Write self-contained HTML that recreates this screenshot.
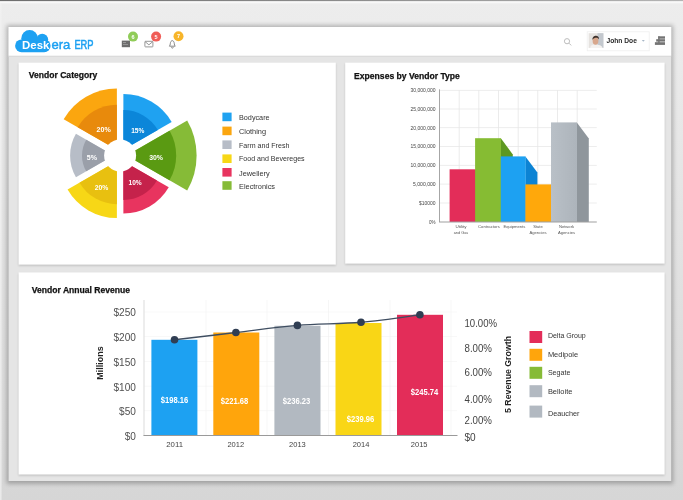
<!DOCTYPE html>
<html lang="en"><head><meta charset="utf-8"><title>Deskera ERP Dashboard</title>
<style>
html,body{margin:0;padding:0;width:683px;height:500px;overflow:hidden;background:#e4e4e4;}
svg{display:block;font-family:"Liberation Sans", sans-serif;filter:blur(0.45px);}
</style></head><body>
<svg width="683" height="500" viewBox="0 0 683 500">
<defs>
<linearGradient id="bg" x1="0" y1="0" x2="0" y2="1">
<stop offset="0" stop-color="#ededed"/><stop offset="0.5" stop-color="#e2e2e2"/><stop offset="1" stop-color="#d6d6d6"/>
</linearGradient>
<linearGradient id="topline" x1="0" y1="0" x2="1" y2="0">
<stop offset="0" stop-color="#6e6e6e"/><stop offset="0.5" stop-color="#8c8c8c"/><stop offset="1" stop-color="#b4b4b4"/>
</linearGradient>
<filter id="sh" x="-5%" y="-5%" width="110%" height="112%"><feGaussianBlur stdDeviation="2.2"/></filter>
<filter id="sh2" x="-5%" y="-5%" width="110%" height="112%"><feGaussianBlur stdDeviation="1.2"/></filter>
<linearGradient id="grayg" x1="0" y1="0" x2="1" y2="0">
<stop offset="0" stop-color="#b9c0c7"/><stop offset="1" stop-color="#adb4bb"/>
</linearGradient>
</defs>

<rect width="683" height="500" fill="url(#bg)"/>
<rect x="0" y="0" width="683" height="1.3" fill="url(#topline)"/>
<rect x="0" y="1.3" width="683" height="2" fill="#f8f8f8"/>
<rect x="6.6" y="25.2" width="666.6" height="458.6" fill="#000" opacity="0.25" filter="url(#sh)"/>
<rect x="0" y="3" width="1.6" height="497" fill="#f2f2f2" opacity="0.7"/>
<rect x="8.6" y="27" width="662.6" height="454" fill="#e5e5e5"/>
<rect x="8.6" y="27" width="662.6" height="28.8" fill="#fff"/>
<rect x="8.6" y="55.8" width="662.6" height="1" fill="#d9d9d9"/>
<rect x="18.6" y="63.800000000000004" width="317.2" height="202" fill="#000" opacity="0.16" filter="url(#sh2)"/>
<rect x="18.6" y="62.6" width="317.2" height="202" fill="#fff"/>
<rect x="345.2" y="63.800000000000004" width="319.4" height="201" fill="#000" opacity="0.16" filter="url(#sh2)"/>
<rect x="345.2" y="62.6" width="319.4" height="201" fill="#fff"/>
<rect x="18.6" y="273.59999999999997" width="646" height="202.1" fill="#000" opacity="0.16" filter="url(#sh2)"/>
<rect x="18.6" y="272.4" width="646" height="202.1" fill="#fff"/>
<g fill="#1da1f2">
<rect x="15.1" y="39.4" width="35.5" height="12.8" rx="6.4"/>
<circle cx="29.6" cy="38.3" r="8.3"/>
<circle cx="42.2" cy="39.8" r="6"/>
</g>
<text x="22.1" y="48.7" font-size="11.4" fill="#fff" font-weight="bold" text-anchor="start" textLength="27.4" lengthAdjust="spacingAndGlyphs" >Desk</text>
<text x="51.4" y="48.8" font-size="13.6" fill="#1da1f2" font-weight="normal" text-anchor="start" textLength="18.9" lengthAdjust="spacingAndGlyphs" stroke="#1da1f2" stroke-width="0.45">era</text>
<text x="74.4" y="48.8" font-size="12.4" fill="#1da1f2" font-weight="normal" text-anchor="start" textLength="19.2" lengthAdjust="spacingAndGlyphs" stroke="#1da1f2" stroke-width="0.55">ERP</text>
<rect x="121.8" y="40.6" width="8.2" height="6.6" fill="#6c6c6c"/>
<rect x="123" y="42" width="3" height="1" fill="#9a9a9a"/><rect x="123" y="44" width="5" height="0.9" fill="#9a9a9a"/>
<g fill="none" stroke="#8c8c8c" stroke-width="0.9"><rect x="144.9" y="41.3" width="8" height="5.6" rx="0.6"/><path d="M145 41.6 L148.9 44.8 L152.8 41.6"/></g>
<g fill="none" stroke="#7c7c7c" stroke-width="0.9"><path d="M169.4 46.2 C170.6 45 170 42.6 171 41.4 C171.8 40.4 172.8 40.4 173.6 41.4 C174.6 42.6 174 45 175.2 46.2 Z"/><path d="M171.5 47.2 a0.9 0.9 0 0 0 1.8 0"/></g>
<circle cx="133" cy="36.6" r="5" fill="#90cc58"/>
<text x="133" y="38.6" font-size="5.5" fill="#fff" font-weight="bold" text-anchor="middle" >6</text>
<circle cx="156.1" cy="36.6" r="5" fill="#f05d57"/>
<text x="156.1" y="38.6" font-size="5.5" fill="#fff" font-weight="bold" text-anchor="middle" >5</text>
<circle cx="178.5" cy="36.3" r="5" fill="#f7b52a"/>
<text x="178.5" y="38.3" font-size="5.5" fill="#fff" font-weight="bold" text-anchor="middle" >7</text>
<g fill="none" stroke="#bdbdbd" stroke-width="1"><circle cx="567" cy="41.2" r="2.6"/><path d="M569 43.2 L571.2 45.4"/></g>
<rect x="587.2" y="31.8" width="62" height="19" fill="#fff" stroke="#efefef" stroke-width="0.8"/>
<g><rect x="588.6" y="33.2" width="14.8" height="14.7" fill="#e6e3e0"/><rect x="597.5" y="33.2" width="5.9" height="14.7" fill="#c3c8ce"/><path d="M590.2 47.9 C590.6 45 593.4 44.2 595.6 44.8 C598.4 44.2 602 45.2 602.6 47.9 Z" fill="#f4f2f0"/><ellipse cx="595.5" cy="40.8" rx="2.9" ry="3.9" fill="#d8a78c"/><path d="M592.5 39.8 C591.8 35 599.6 34 599 39.4 C598 37.4 594.4 37.2 592.5 39.8 Z" fill="#3e302a"/></g>
<text x="606.5" y="43.3" font-size="7.6" fill="#2a2a2a" font-weight="bold" text-anchor="start" textLength="30.4" lengthAdjust="spacingAndGlyphs" >John Doe</text>
<path d="M641.8 40 L644.8 40 L643.3 41.8 Z" fill="#a9b8c8"/>
<g fill="#747474"><rect x="658.2" y="36.3" width="6.8" height="2.4"/><rect x="656.2" y="39.2" width="8.8" height="2.4"/><rect x="654.9" y="42.2" width="10.1" height="2.7"/><rect x="658.2" y="36.3" width="1.4" height="7"/></g>
<text x="28.8" y="77.5" font-size="8.8" fill="#111" font-weight="bold" text-anchor="start" textLength="68.5" lengthAdjust="spacingAndGlyphs" stroke="#111" stroke-width="0.25">Vendor Category</text>
<text x="354.1" y="78.8" font-size="8.8" fill="#111" font-weight="bold" text-anchor="start" textLength="105.8" lengthAdjust="spacingAndGlyphs" stroke="#111" stroke-width="0.25">Expenses by Vendor Type</text>
<text x="31.8" y="293" font-size="8.6" fill="#111" font-weight="bold" text-anchor="start" textLength="98.3" lengthAdjust="spacingAndGlyphs" stroke="#111" stroke-width="0.25">Vendor Annual Revenue</text>
<g>
<path d="M123.35 149.87 L123.35 94.07 A55.8 55.8 0 0 1 171.67 121.97 Z" fill="#1fa2f1"/>
<path d="M123.35 149.87 L123.35 110.07 A39.8 39.8 0 0 1 157.82 129.97 Z" fill="#0b86d9"/>
<path d="M126.60 155.50 L187.22 120.50 A70 70 0 0 1 187.22 190.50 Z" fill="#86bb37"/>
<path d="M126.60 155.50 L169.55 130.70 A49.6 49.6 0 0 1 169.55 180.30 Z" fill="#5a9a12"/>
<path d="M123.35 161.13 L168.73 187.33 A52.4 52.4 0 0 1 123.35 213.53 Z" fill="#e8345f"/>
<path d="M123.35 161.13 L156.95 180.53 A38.8 38.8 0 0 1 123.35 199.93 Z" fill="#c5224b"/>
<path d="M116.85 161.13 L116.85 218.03 A56.9 56.9 0 0 1 67.57 189.58 Z" fill="#f7d716"/>
<path d="M116.85 161.13 L116.85 204.13 A43 43 0 0 1 79.61 182.63 Z" fill="#e8c010"/>
<path d="M113.60 155.50 L75.93 177.25 A43.5 43.5 0 0 1 75.93 133.75 Z" fill="#b7bdc7"/>
<path d="M113.60 155.50 L86.23 171.30 A31.6 31.6 0 0 1 86.23 139.70 Z" fill="#9a9fa9"/>
<path d="M116.85 149.87 L63.68 119.17 A61.4 61.4 0 0 1 116.85 88.47 Z" fill="#fba60f"/>
<path d="M116.85 149.87 L77.71 127.27 A45.2 45.2 0 0 1 116.85 104.67 Z" fill="#e88a0c"/>
<circle cx="120.1" cy="155.5" r="16" fill="#fff"/>
</g>
<text x="103.7" y="131.6" font-size="7.8" fill="#fff" font-weight="bold" text-anchor="middle" textLength="14.2" lengthAdjust="spacingAndGlyphs" >20%</text>
<text x="137.8" y="132.6" font-size="7.8" fill="#fff" font-weight="bold" text-anchor="middle" textLength="13.2" lengthAdjust="spacingAndGlyphs" >15%</text>
<text x="156.1" y="159.7" font-size="7.8" fill="#fff" font-weight="bold" text-anchor="middle" textLength="13.8" lengthAdjust="spacingAndGlyphs" >30%</text>
<text x="135.1" y="185.4" font-size="7.8" fill="#fff" font-weight="bold" text-anchor="middle" textLength="13.2" lengthAdjust="spacingAndGlyphs" >10%</text>
<text x="101.6" y="190.4" font-size="7.8" fill="#fff" font-weight="bold" text-anchor="middle" textLength="13.6" lengthAdjust="spacingAndGlyphs" >20%</text>
<text x="91.9" y="160" font-size="7.8" fill="#fff" font-weight="bold" text-anchor="middle" textLength="10.2" lengthAdjust="spacingAndGlyphs" >5%</text>
<rect x="222.4" y="112.6" width="9.2" height="8.6" fill="#1fa2f1"/>
<text x="239" y="120.39999999999999" font-size="7.8" fill="#333" font-weight="normal" text-anchor="start" textLength="30.6" lengthAdjust="spacingAndGlyphs" >Bodycare</text>
<rect x="222.4" y="126.6" width="9.2" height="8.6" fill="#fba60f"/>
<text x="239" y="133.8" font-size="7.8" fill="#333" font-weight="normal" text-anchor="start" textLength="27" lengthAdjust="spacingAndGlyphs" >Clothing</text>
<rect x="222.4" y="140.4" width="9.2" height="8.6" fill="#b7bdc7"/>
<text x="239" y="148.4" font-size="7.8" fill="#333" font-weight="normal" text-anchor="start" textLength="50.4" lengthAdjust="spacingAndGlyphs" >Farm and Fresh</text>
<rect x="222.4" y="154.4" width="9.2" height="8.6" fill="#f7d716"/>
<text x="239" y="161.4" font-size="7.8" fill="#333" font-weight="normal" text-anchor="start" textLength="65.6" lengthAdjust="spacingAndGlyphs" >Food and Bevereges</text>
<rect x="222.4" y="168" width="9.2" height="8.6" fill="#e8345f"/>
<text x="239" y="176.20000000000002" font-size="7.8" fill="#333" font-weight="normal" text-anchor="start" textLength="30.6" lengthAdjust="spacingAndGlyphs" >Jewellery</text>
<rect x="222.4" y="181.2" width="9.2" height="8.6" fill="#86bb37"/>
<text x="239" y="189.20000000000002" font-size="7.8" fill="#333" font-weight="normal" text-anchor="start" textLength="36" lengthAdjust="spacingAndGlyphs" >Electronics</text>
<rect x="439.5" y="89.89999999999999" width="157.29999999999995" height="0.8" fill="#e9e9e9"/>
<rect x="439.5" y="108.6" width="157.29999999999995" height="0.8" fill="#e9e9e9"/>
<rect x="439.5" y="127.3" width="157.29999999999995" height="0.8" fill="#e9e9e9"/>
<rect x="439.5" y="146.1" width="157.29999999999995" height="0.8" fill="#e9e9e9"/>
<rect x="439.5" y="164.9" width="157.29999999999995" height="0.8" fill="#e9e9e9"/>
<rect x="439.5" y="183.7" width="157.29999999999995" height="0.8" fill="#e9e9e9"/>
<rect x="439.5" y="202.6" width="157.29999999999995" height="0.8" fill="#e9e9e9"/>
<rect x="458.76" y="90.3" width="0.8" height="131.7" fill="#e6e6e6"/>
<rect x="478.43" y="90.3" width="0.8" height="131.7" fill="#e6e6e6"/>
<rect x="498.09" y="90.3" width="0.8" height="131.7" fill="#e6e6e6"/>
<rect x="517.75" y="90.3" width="0.8" height="131.7" fill="#e6e6e6"/>
<rect x="537.41" y="90.3" width="0.8" height="131.7" fill="#e6e6e6"/>
<rect x="557.07" y="90.3" width="0.8" height="131.7" fill="#e6e6e6"/>
<rect x="576.74" y="90.3" width="0.8" height="131.7" fill="#e6e6e6"/>
<rect x="439.0" y="89.3" width="1" height="132.7" fill="#a6a6a6"/>
<text x="435.6" y="92.2" font-size="5.4" fill="#444" font-weight="normal" text-anchor="end" textLength="25" lengthAdjust="spacingAndGlyphs" >30,000,000</text>
<text x="435.6" y="110.9" font-size="5.4" fill="#444" font-weight="normal" text-anchor="end" textLength="25" lengthAdjust="spacingAndGlyphs" >25,000,000</text>
<text x="435.6" y="129.6" font-size="5.4" fill="#444" font-weight="normal" text-anchor="end" textLength="25" lengthAdjust="spacingAndGlyphs" >20,000,000</text>
<text x="435.6" y="148.4" font-size="5.4" fill="#444" font-weight="normal" text-anchor="end" textLength="25" lengthAdjust="spacingAndGlyphs" >15,000,000</text>
<text x="435.6" y="167.20000000000002" font-size="5.4" fill="#444" font-weight="normal" text-anchor="end" textLength="25" lengthAdjust="spacingAndGlyphs" >10,000,000</text>
<text x="435.6" y="186.0" font-size="5.4" fill="#444" font-weight="normal" text-anchor="end" textLength="22.5" lengthAdjust="spacingAndGlyphs" >5,000,000</text>
<text x="435.6" y="204.9" font-size="5.4" fill="#444" font-weight="normal" text-anchor="end" textLength="16.5" lengthAdjust="spacingAndGlyphs" >$10000</text>
<text x="435.6" y="223.9" font-size="5.4" fill="#444" font-weight="normal" text-anchor="end" textLength="6.5" lengthAdjust="spacingAndGlyphs" >0%</text>
<path d="M475.1 169.3 L487.1 185.5 L487.1 222 L475.1 222 Z" fill="#b81f45"/>
<rect x="449.6" y="169.3" width="25.70" height="52.69999999999999" fill="#e32d59"/>
<path d="M500.8 138.2 L512.8 154.39999999999998 L512.8 222 L500.8 222 Z" fill="#5d9820"/>
<rect x="475.1" y="138.2" width="25.90" height="83.80000000000001" fill="#86bc33"/>
<path d="M525.4 156.4 L537.4 172.6 L537.4 222 L525.4 222 Z" fill="#0c83d4"/>
<rect x="500.8" y="156.4" width="24.80" height="65.6" fill="#1da1f2"/>
<path d="M551 184.4 L563 200.6 L563 222 L551 222 Z" fill="#d98a05"/>
<rect x="525.4" y="184.4" width="25.80" height="37.599999999999994" fill="#ffa80b"/>
<path d="M576.8 122.4 L588.8 138.6 L588.8 222 L576.8 222 Z" fill="#8f969c"/>
<rect x="551" y="122.4" width="26.00" height="99.6" fill="url(#grayg)"/>
<rect x="439.0" y="221.5" width="157.79999999999995" height="1" fill="#a0a0a0"/>
<text x="461" y="227.7" font-size="4.3" fill="#555" font-weight="normal" text-anchor="middle" textLength="11" lengthAdjust="spacingAndGlyphs" >Utility</text>
<text x="461" y="233.79999999999998" font-size="4.3" fill="#555" font-weight="normal" text-anchor="middle" textLength="14.6" lengthAdjust="spacingAndGlyphs" >and Gas</text>
<text x="488.9" y="227.7" font-size="4.3" fill="#555" font-weight="normal" text-anchor="middle" textLength="21.7" lengthAdjust="spacingAndGlyphs" >Contractors</text>
<text x="514.4" y="227.7" font-size="4.3" fill="#555" font-weight="normal" text-anchor="middle" textLength="21.9" lengthAdjust="spacingAndGlyphs" >Equipments</text>
<text x="538" y="227.7" font-size="4.3" fill="#555" font-weight="normal" text-anchor="middle" textLength="9.6" lengthAdjust="spacingAndGlyphs" >State</text>
<text x="538" y="233.79999999999998" font-size="4.3" fill="#555" font-weight="normal" text-anchor="middle" textLength="17" lengthAdjust="spacingAndGlyphs" >Agencies</text>
<text x="566.5" y="227.7" font-size="4.3" fill="#555" font-weight="normal" text-anchor="middle" textLength="15.2" lengthAdjust="spacingAndGlyphs" >Network</text>
<text x="566.5" y="233.79999999999998" font-size="4.3" fill="#555" font-weight="normal" text-anchor="middle" textLength="17" lengthAdjust="spacingAndGlyphs" >Agencies</text>
<rect x="144" y="311.7" width="313" height="0.6" fill="#f3f3f3"/>
<rect x="144" y="336.4" width="313" height="0.6" fill="#f3f3f3"/>
<rect x="144" y="361.09999999999997" width="313" height="0.6" fill="#f3f3f3"/>
<rect x="144" y="385.8" width="313" height="0.6" fill="#f3f3f3"/>
<rect x="144" y="410.5" width="313" height="0.6" fill="#f3f3f3"/>
<rect x="205.7" y="300" width="0.6" height="135" fill="#f0f0f0"/>
<rect x="266.7" y="300" width="0.6" height="135" fill="#f0f0f0"/>
<rect x="328.2" y="300" width="0.6" height="135" fill="#f0f0f0"/>
<rect x="389.7" y="300" width="0.6" height="135" fill="#f0f0f0"/>
<rect x="450.7" y="300" width="0.6" height="135" fill="#f0f0f0"/>
<rect x="143.5" y="300" width="1" height="136" fill="#dcdcdc"/>
<rect x="151.4" y="339.8" width="46.0" height="95.59999999999997" fill="#1da1f2"/>
<rect x="213.3" y="332.5" width="46.0" height="102.89999999999998" fill="#ffa50c"/>
<rect x="274.4" y="325.8" width="46.10000000000002" height="109.59999999999997" fill="#b2b9c1"/>
<rect x="335.5" y="323" width="46.0" height="112.39999999999998" fill="#f9d616"/>
<rect x="397" y="314.8" width="46" height="120.59999999999997" fill="#e32d59"/>
<rect x="143.5" y="435.0" width="314" height="1" fill="#9a9a9a"/>
<path d="M174.5 339.8 C184.7 338.6 215.4 334.9 235.9 332.5 C256.4 330.1 276.5 327.1 297.4 325.4 C318.2 323.7 340.6 324.1 361 322.3 C381.4 320.5 410.1 316.1 419.9 314.8" fill="none" stroke="#3f4e61" stroke-width="1.4"/>
<circle cx="174.5" cy="339.8" r="3.8" fill="#303e53"/>
<circle cx="235.9" cy="332.5" r="3.8" fill="#303e53"/>
<circle cx="297.4" cy="325.4" r="3.8" fill="#303e53"/>
<circle cx="361" cy="322.3" r="3.8" fill="#303e53"/>
<circle cx="419.9" cy="314.8" r="3.8" fill="#303e53"/>
<text x="174.6" y="402.6" font-size="8.2" fill="#fff" font-weight="bold" text-anchor="middle" textLength="27.5" lengthAdjust="spacingAndGlyphs" >$198.16</text>
<text x="234.5" y="403.5" font-size="8.2" fill="#fff" font-weight="bold" text-anchor="middle" textLength="27.5" lengthAdjust="spacingAndGlyphs" >$221.68</text>
<text x="296.6" y="404.3" font-size="8.2" fill="#fff" font-weight="bold" text-anchor="middle" textLength="27.5" lengthAdjust="spacingAndGlyphs" >$236.23</text>
<text x="360.6" y="422" font-size="8.2" fill="#fff" font-weight="bold" text-anchor="middle" textLength="27.5" lengthAdjust="spacingAndGlyphs" >$239.96</text>
<text x="424.6" y="395.3" font-size="8.2" fill="#fff" font-weight="bold" text-anchor="middle" textLength="27.5" lengthAdjust="spacingAndGlyphs" >$245.74</text>
<text x="174.6" y="447.2" font-size="8" fill="#444" font-weight="normal" text-anchor="middle" textLength="16.7" lengthAdjust="spacingAndGlyphs" >2011</text>
<text x="235.8" y="447.2" font-size="8" fill="#444" font-weight="normal" text-anchor="middle" textLength="16.7" lengthAdjust="spacingAndGlyphs" >2012</text>
<text x="297.4" y="447.2" font-size="8" fill="#444" font-weight="normal" text-anchor="middle" textLength="16.7" lengthAdjust="spacingAndGlyphs" >2013</text>
<text x="361" y="447.2" font-size="8" fill="#444" font-weight="normal" text-anchor="middle" textLength="16.7" lengthAdjust="spacingAndGlyphs" >2014</text>
<text x="419.2" y="447.2" font-size="8" fill="#444" font-weight="normal" text-anchor="middle" textLength="16.7" lengthAdjust="spacingAndGlyphs" >2015</text>
<text x="135.9" y="315.95" font-size="10.4" fill="#505050" font-weight="normal" text-anchor="end" textLength="22.4" lengthAdjust="spacingAndGlyphs" >$250</text>
<text x="135.9" y="340.55" font-size="10.4" fill="#505050" font-weight="normal" text-anchor="end" textLength="22.4" lengthAdjust="spacingAndGlyphs" >$200</text>
<text x="135.9" y="365.75" font-size="10.4" fill="#505050" font-weight="normal" text-anchor="end" textLength="22.4" lengthAdjust="spacingAndGlyphs" >$150</text>
<text x="135.9" y="391.15" font-size="10.4" fill="#505050" font-weight="normal" text-anchor="end" textLength="22.4" lengthAdjust="spacingAndGlyphs" >$100</text>
<text x="135.9" y="415.35" font-size="10.4" fill="#505050" font-weight="normal" text-anchor="end" textLength="16.8" lengthAdjust="spacingAndGlyphs" >$50</text>
<text x="135.9" y="440.25" font-size="10.4" fill="#505050" font-weight="normal" text-anchor="end" textLength="11.2" lengthAdjust="spacingAndGlyphs" >$0</text>
<text x="464.5" y="326.7" font-size="10.4" fill="#444" font-weight="normal" text-anchor="start" textLength="32.6" lengthAdjust="spacingAndGlyphs" >10.00%</text>
<text x="464.5" y="351.5" font-size="10.4" fill="#444" font-weight="normal" text-anchor="start" textLength="27.5" lengthAdjust="spacingAndGlyphs" >8.00%</text>
<text x="464.5" y="376.4" font-size="10.4" fill="#444" font-weight="normal" text-anchor="start" textLength="27.5" lengthAdjust="spacingAndGlyphs" >6.00%</text>
<text x="464.5" y="402.5" font-size="10.4" fill="#444" font-weight="normal" text-anchor="start" textLength="27.5" lengthAdjust="spacingAndGlyphs" >4.00%</text>
<text x="464.5" y="423.7" font-size="10.4" fill="#444" font-weight="normal" text-anchor="start" textLength="27.5" lengthAdjust="spacingAndGlyphs" >2.00%</text>
<text x="464.5" y="440.7" font-size="10.4" fill="#444" font-weight="normal" text-anchor="start" textLength="11.2" lengthAdjust="spacingAndGlyphs" >$0</text>
<text transform="translate(102.6 363) rotate(-90)" font-size="9" font-weight="bold" fill="#222" text-anchor="middle" textLength="33.3" lengthAdjust="spacingAndGlyphs">Millions</text>
<text transform="translate(510.6 374.5) rotate(-90)" font-size="9" font-weight="bold" fill="#222" text-anchor="middle" textLength="77" lengthAdjust="spacingAndGlyphs">5 Revenue Growth</text>
<rect x="529.5" y="331" width="12.7" height="12" fill="#e32d59"/>
<text x="547.9" y="338.4" font-size="7.4" fill="#333" font-weight="normal" text-anchor="start" textLength="37.9" lengthAdjust="spacingAndGlyphs" >Delta Group</text>
<rect x="529.5" y="348.8" width="12.7" height="12" fill="#ffa50c"/>
<text x="547.9" y="357.4" font-size="7.4" fill="#333" font-weight="normal" text-anchor="start" textLength="30.3" lengthAdjust="spacingAndGlyphs" >Medipole</text>
<rect x="529.5" y="366.8" width="12.7" height="12" fill="#86bb37"/>
<text x="547.9" y="374.5" font-size="7.4" fill="#333" font-weight="normal" text-anchor="start" textLength="22.5" lengthAdjust="spacingAndGlyphs" >Segate</text>
<rect x="529.5" y="385.2" width="12.7" height="12" fill="#b2b9c1"/>
<text x="547.9" y="393.9" font-size="7.4" fill="#333" font-weight="normal" text-anchor="start" textLength="24.5" lengthAdjust="spacingAndGlyphs" >Belloite</text>
<rect x="529.5" y="405.6" width="12.7" height="12" fill="#b2b9c1"/>
<text x="547.9" y="416.3" font-size="7.4" fill="#333" font-weight="normal" text-anchor="start" textLength="31.5" lengthAdjust="spacingAndGlyphs" >Deaucher</text>
</svg></body></html>
